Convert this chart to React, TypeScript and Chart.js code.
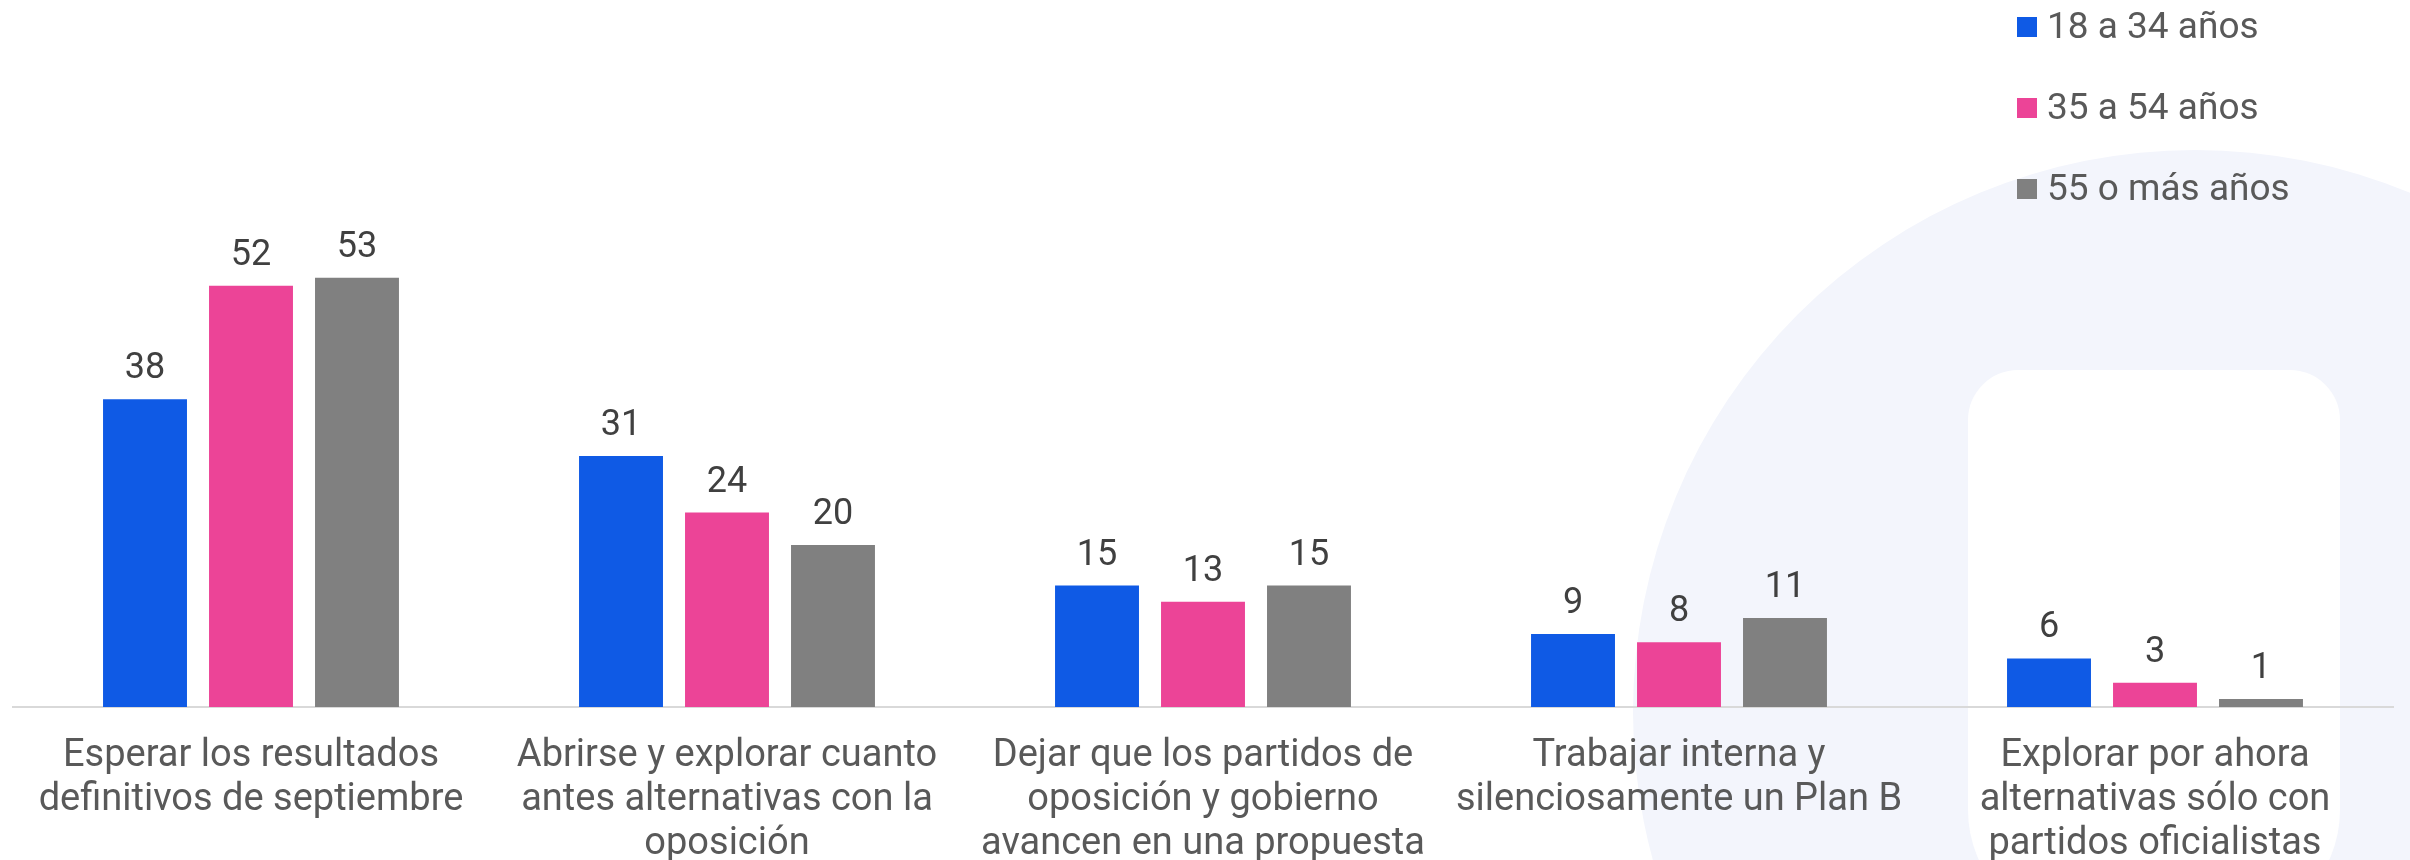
import React, { useEffect, useRef } from 'react';
import { Chart, registerables } from 'chart.js';

Chart.register(...registerables);

const categories: string[][] = [
  ['Esperar los resultados', 'definitivos de septiembre'],
  ['Abrirse y explorar cuanto', 'antes alternativas con la', 'oposición'],
  ['Dejar que los partidos de', 'oposición y gobierno', 'avancen en una propuesta'],
  ['Trabajar interna y', 'silenciosamente un Plan B'],
  ['Explorar por ahora', 'alternativas sólo con', 'partidos oficialistas'],
];

const seriesLabels = ['18 a 34 años', '35 a 54 años', '55 o más años'];
const values18to34 = [38, 31, 15, 9, 6];
const values35to54 = [52, 24, 13, 8, 3];
const values55plus = [53, 20, 15, 11, 1];
const seriesColors = ['#0F5AE5', '#EC4497', '#808080'];

const yMax = 60;

const FONT = 'Roboto, "Noto Sans", sans-serif';

const backgroundPlugin = {
  id: 'bgDecor',
  beforeDraw(chart: any) {
    const ctx = chart.ctx as CanvasRenderingContext2D;
    ctx.save();
    ctx.fillStyle = '#FFFFFF';
    ctx.fillRect(0, 0, chart.width, chart.height);
    ctx.fillStyle = '#F3F5FC';
    ctx.beginPath();
    ctx.arc(2195, 712, 562, 0, Math.PI * 2);
    ctx.fill();
    ctx.fillStyle = '#FFFFFF';
    ctx.beginPath();
    (ctx as any).roundRect(1968, 370, 372, 560, [50, 50, 120, 120]);
    ctx.fill();
    ctx.restore();
  },
};

const valueLabelPlugin = {
  id: 'valueLabels',
  afterDatasetsDraw(chart: any) {
    const ctx = chart.ctx as CanvasRenderingContext2D;
    ctx.save();
    ctx.font = `36px ${FONT}`;
    ctx.fillStyle = '#404040';
    ctx.textAlign = 'center';
    ctx.textBaseline = 'alphabetic';
    chart.data.datasets.forEach((ds: any, i: number) => {
      const meta = chart.getDatasetMeta(i);
      meta.data.forEach((bar: any, j: number) => {
        ctx.fillText(String(ds.data[j]), bar.x, bar.y - 21);
      });
    });
    ctx.restore();
  },
};

const legendPlugin = {
  id: 'sideLegend',
  afterDraw(chart: any) {
    const ctx = chart.ctx as CanvasRenderingContext2D;
    ctx.save();
    ctx.font = `37px ${FONT}`;
    ctx.textAlign = 'left';
    ctx.textBaseline = 'alphabetic';
    chart.data.datasets.forEach((ds: any, i: number) => {
      const top = 17 + 81 * i;
      ctx.fillStyle = ds.backgroundColor;
      ctx.fillRect(2017, top, 20, 20);
      ctx.fillStyle = '#595959';
      ctx.fillText(ds.label, 2047, top + 20.5);
    });
    ctx.restore();
  },
};

export default function App() {
  const canvasRef = useRef<HTMLCanvasElement | null>(null);

  useEffect(() => {
    document.body.style.margin = '0';
    document.body.style.overflow = 'hidden';
    const canvas = canvasRef.current;
    if (!canvas) return;
    const seriesValues = [values18to34, values35to54, values55plus];
    const chart = new Chart(canvas, {
      type: 'bar',
      data: {
        labels: categories,
        datasets: seriesLabels.map((label, i) => ({
          label,
          data: seriesValues[i],
          backgroundColor: seriesColors[i],
          borderWidth: 0,
          categoryPercentage: 0.668,
          barPercentage: 0.792,
        })),
      },
      options: {
        animation: false,
        responsive: true,
        maintainAspectRatio: false,
        layout: { padding: { top: 221, left: 13, right: 17, bottom: 0 } },
        plugins: {
          legend: { display: false },
          tooltip: { enabled: false },
        },
        scales: {
          x: {
            grid: { display: false, drawTicks: false },
            border: { display: true, color: '#D9D9D9', width: 2 },
            ticks: {
              color: '#595959',
              font: { family: FONT, size: 38, lineHeight: 1.15 },
              padding: 28,
              autoSkip: false,
              maxRotation: 0,
              minRotation: 0,
            },
            afterFit(scale: any) {
              scale.height = 153;
            },
          },
          y: {
            display: false,
            min: 0,
            max: yMax,
          },
        },
      },
      plugins: [backgroundPlugin, valueLabelPlugin, legendPlugin],
    });
    return () => chart.destroy();
  }, []);

  return (
    <div style={{ width: '2410px', height: '860px', position: 'relative' }}>
      <canvas ref={canvasRef} />
    </div>
  );
}
